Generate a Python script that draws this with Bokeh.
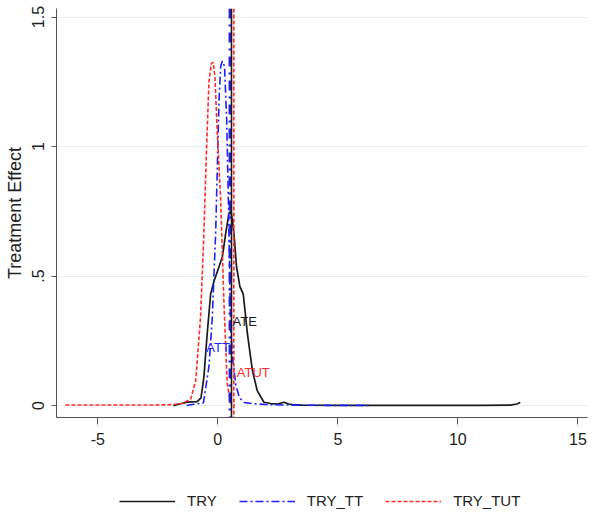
from bokeh.plotting import figure
from bokeh.layouts import column
from bokeh.models import Range1d, Span, Legend, LegendItem, FixedTicker, Label
from bokeh.embed import file_html
from bokeh.resources import INLINE

# ---- data ----
try_x = [-1.85, -1.6, -1.27, -0.86, -0.7, -0.58, -0.44, -0.3, -0.16, 0.05, 0.19, 0.33,
         0.46, 0.54, 0.6, 0.67, 0.78, 0.92, 1.06, 1.23, 1.44, 1.64, 1.92, 2.2, 2.5, 2.75,
         2.95, 3.1, 3.5, 5.0, 8.0, 11.0, 12.2, 12.45, 12.6]
try_y = [0.0, 0.006, 0.013, 0.015, 0.03, 0.11, 0.28, 0.43, 0.48, 0.536, 0.575, 0.666,
         0.74, 0.752, 0.72, 0.666, 0.536, 0.459, 0.43, 0.28, 0.136, 0.058, 0.013, 0.008,
         0.006, 0.013, 0.006, 0.004, 0.002, 0.001, 0.001, 0.001, 0.002, 0.006, 0.012]

tt_x = [-1.3, -1.0, -0.6, -0.37, -0.23, -0.09, -0.02, 0.05, 0.12, 0.19, 0.28, 0.37,
        0.46, 0.53, 0.62, 0.75, 0.9, 1.1, 1.4, 2.0, 3.0, 4.5, 6.3]
tt_y = [0.0, 0.005, 0.01, 0.15, 0.34, 0.666, 0.92, 1.18, 1.31, 1.33, 1.31, 1.1,
        0.7, 0.3, 0.18, 0.08, 0.03, 0.012, 0.008, 0.004, 0.002, 0.001, 0.001]

tut_x = [-6.35, -5.0, -3.0, -2.0, -1.5, -1.13, -0.92, -0.72, -0.58, -0.47, -0.37, -0.27,
         -0.19, -0.12, -0.02, 0.12, 0.25, 0.39, 0.53, 0.7]
tut_y = [0.002, 0.002, 0.002, 0.003, 0.008, 0.025, 0.097, 0.34, 0.666, 0.99, 1.25, 1.32,
         1.325, 1.27, 1.05, 0.79, 0.41, 0.085, 0.01, 0.002]

effect_names = ["ATE", "ATT", "ATUT"]
effect_values = [0.57, 0.5, 0.667]
effect_label_y = [0.324, 0.224, 0.127]

series_names = ["TRY", "TRY_TT", "TRY_TUT"]
x_ticks = [-5, 0, 5, 10, 15]
x_tick_labels = ["-5", "0", "5", "10", "15"]
y_ticks = [0, 0.5, 1, 1.5]
y_tick_labels = ["0", ".5", "1", "1.5"]

BLACK = "#1a1a1a"
BLUE = "#1f1fff"
RED = "#ff2a2a"
FONT = "Liberation Sans"

series = [(try_x, try_y), (tt_x, tt_y), (tut_x, tut_y)]
styles = [dict(line_color=BLACK, line_width=1.7, line_dash="solid"),
          dict(line_color=BLUE, line_width=1.6, line_dash="8 3 2 3"),
          dict(line_color=RED, line_width=1.6, line_dash="4 2")]

p = figure(width=596, height=470, output_backend="svg", toolbar_location=None,
           x_range=Range1d(-6.72, 15.4), y_range=Range1d(-0.046, 1.533),
           min_border_left=56, min_border_right=9, min_border_top=8, min_border_bottom=53)
p.outline_line_color = None
p.background_fill_color = "white"
p.border_fill_color = "white"

# grid
p.xgrid.grid_line_color = None
p.ygrid.grid_line_color = "#e6eff1"
p.ygrid.grid_line_width = 1
p.yaxis.ticker = FixedTicker(ticks=y_ticks)
p.ygrid.ticker = FixedTicker(ticks=y_ticks)
p.xaxis.ticker = FixedTicker(ticks=x_ticks)

# axes
for ax in (p.xaxis[0], p.yaxis[0]):
    ax.axis_line_color = "#555555"
    ax.major_tick_line_color = "#555555"
    ax.minor_tick_line_color = None
    ax.major_tick_in = 0
    ax.major_label_text_font = FONT
    ax.major_label_text_font_size = "16px"
    ax.major_label_text_color = "#222222"
p.xaxis.major_tick_out = 7
p.xaxis.major_label_standoff = 8
p.xaxis.major_label_overrides = {t: l for t, l in zip(x_ticks, x_tick_labels)}
p.yaxis.major_tick_out = 5
p.yaxis.major_label_standoff = 7
p.yaxis.major_label_orientation = "vertical"
p.yaxis.major_label_overrides = {t: l for t, l in zip(y_ticks, y_tick_labels)}
p.yaxis.axis_label = "Treatment Effect"
p.yaxis.axis_label_text_font = FONT
p.yaxis.axis_label_text_font_style = "normal"
p.yaxis.axis_label_text_font_size = "18px"
p.yaxis.axis_label_text_color = "#222222"
p.yaxis.axis_label_standoff = 5

# curves
for (xs, ys), st in zip(series, styles):
    p.line(xs, ys, **st)

# vertical reference lines
span_styles = [
    dict(line_color=BLACK, line_width=1.6, line_dash="solid"),
    dict(line_color=BLUE, line_width=2.5, line_dash="10 6 2 6"),
    dict(line_color=RED, line_width=1.6, line_dash="4 2"),
]
for idx in (1, 0, 2):
    p.add_layout(Span(location=effect_values[idx], dimension="height", **span_styles[idx]))

# labels for the reference lines
label_colors = [BLACK, BLUE, RED]
label_align = ["left", "right", "left"]
label_offset = [1, 0, 3]
for name, xv, yv, c, al, off in zip(effect_names, effect_values, effect_label_y,
                                    label_colors, label_align, label_offset):
    p.add_layout(Label(x=xv, y=yv, text=name, text_color=c, text_align=al,
                       text_baseline="middle", x_offset=off,
                       text_font=FONT, text_font_size="13px"))

# legend strip: same series drawn in a view window that excludes them, so only the keys show
lg = figure(width=596, height=46, output_backend="svg", toolbar_location=None,
            x_range=Range1d(100, 101), y_range=Range1d(100, 101),
            x_axis_location=None, y_axis_location=None,
            min_border_left=0, min_border_right=0, min_border_top=0, min_border_bottom=0)
lg.grid.visible = False
lg.outline_line_color = None
items = []
for (xs, ys), st, nm in zip(series, styles, series_names):
    r = lg.line(xs, ys, **st)
    items.append(LegendItem(label=nm, renderers=[r]))
legend = Legend(items=items, orientation="horizontal", location=(63, 7),
                glyph_width=56, glyph_height=16, label_height=16, label_standoff=12,
                spacing=22, padding=0, margin=0,
                border_line_color=None, background_fill_alpha=0,
                label_text_font=FONT, label_text_font_size="15px",
                label_text_color="#222222")
lg.add_layout(legend, "center")

open("out.html", "w").write(file_html(column(p, lg, spacing=0), INLINE))
